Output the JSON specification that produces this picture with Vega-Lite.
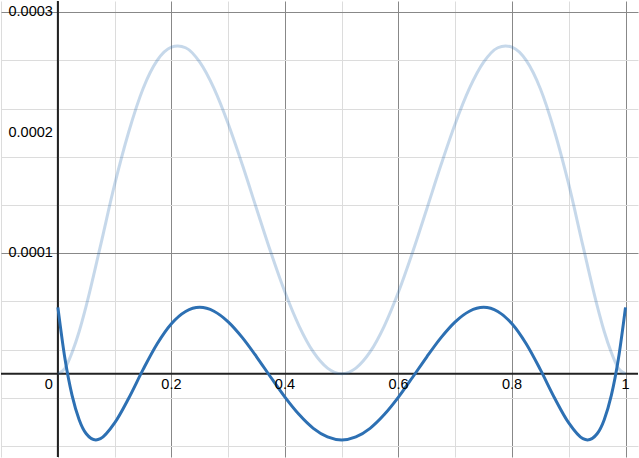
{
  "$schema": "https://vega.github.io/schema/vega-lite/v6.json",
  "width": 639,
  "height": 458,
  "autosize": {"type": "fit", "contains": "padding"},
  "padding": 0,
  "background": "white",
  "config": {
    "view": {"stroke": null},
    "axis": {"minExtent": 0, "maxExtent": 0}
  },
  "datasets": {
    "light": [
      {"x": 0, "y": 0}, {"x": 0.0125, "y": 4.4e-6}, {"x": 0.025, "y": 1.75e-5}, {"x": 0.0375, "y": 3.5e-5},
      {"x": 0.05, "y": 5.65e-5}, {"x": 0.075, "y": 1.06e-4}, {"x": 0.1, "y": 1.57e-4}, {"x": 0.125, "y": 2.01e-4},
      {"x": 0.15, "y": 2.365e-4}, {"x": 0.175, "y": 2.6e-4}, {"x": 0.2, "y": 2.71e-4}, {"x": 0.2113, "y": 2.72e-4},
      {"x": 0.225, "y": 2.705e-4}, {"x": 0.25, "y": 2.585e-4}, {"x": 0.275, "y": 2.367e-4}, {"x": 0.3, "y": 2.074e-4},
      {"x": 0.325, "y": 1.733e-4}, {"x": 0.35, "y": 1.369e-4}, {"x": 0.375, "y": 1.009e-4}, {"x": 0.4, "y": 6.77e-5},
      {"x": 0.425, "y": 3.95e-5}, {"x": 0.45, "y": 1.8e-5}, {"x": 0.475, "y": 4.6e-6}, {"x": 0.5, "y": 0},
      {"x": 0.525, "y": 4.6e-6}, {"x": 0.55, "y": 1.8e-5}, {"x": 0.575, "y": 3.95e-5}, {"x": 0.6, "y": 6.77e-5},
      {"x": 0.625, "y": 1.009e-4}, {"x": 0.65, "y": 1.369e-4}, {"x": 0.675, "y": 1.733e-4}, {"x": 0.7, "y": 2.074e-4},
      {"x": 0.725, "y": 2.367e-4}, {"x": 0.75, "y": 2.585e-4}, {"x": 0.775, "y": 2.705e-4}, {"x": 0.7887, "y": 2.72e-4},
      {"x": 0.8, "y": 2.71e-4}, {"x": 0.825, "y": 2.6e-4}, {"x": 0.85, "y": 2.365e-4}, {"x": 0.875, "y": 2.01e-4},
      {"x": 0.9, "y": 1.57e-4}, {"x": 0.925, "y": 1.06e-4}, {"x": 0.95, "y": 5.65e-5}, {"x": 0.9625, "y": 3.5e-5},
      {"x": 0.975, "y": 1.75e-5}, {"x": 0.9875, "y": 4.4e-6}, {"x": 1, "y": 0}
    ],
    "dark": [
      {"x": 0, "y": 5.5e-5}, {"x": 0.0125, "y": 1.23e-5}, {"x": 0.025, "y": -1.81e-5}, {"x": 0.0375, "y": -3.82e-5},
      {"x": 0.05, "y": -4.99e-5}, {"x": 0.067, "y": -5.5e-5}, {"x": 0.075, "y": -5.4e-5}, {"x": 0.1, "y": -4.09e-5},
      {"x": 0.125, "y": -2.02e-5}, {"x": 0.15, "y": 3.3e-6}, {"x": 0.175, "y": 2.48e-5}, {"x": 0.2, "y": 4.14e-5},
      {"x": 0.225, "y": 5.16e-5}, {"x": 0.25, "y": 5.5e-5}, {"x": 0.275, "y": 5.18e-5}, {"x": 0.3, "y": 4.3e-5},
      {"x": 0.325, "y": 2.99e-5}, {"x": 0.35, "y": 1.4e-5}, {"x": 0.375, "y": -3.0e-6}, {"x": 0.4, "y": -1.95e-5},
      {"x": 0.425, "y": -3.4e-5}, {"x": 0.45, "y": -4.54e-5}, {"x": 0.475, "y": -5.25e-5}, {"x": 0.5, "y": -5.5e-5},
      {"x": 0.525, "y": -5.25e-5}, {"x": 0.55, "y": -4.54e-5}, {"x": 0.575, "y": -3.4e-5}, {"x": 0.6, "y": -1.95e-5},
      {"x": 0.625, "y": -3.0e-6}, {"x": 0.65, "y": 1.4e-5}, {"x": 0.675, "y": 2.99e-5}, {"x": 0.7, "y": 4.3e-5},
      {"x": 0.725, "y": 5.18e-5}, {"x": 0.75, "y": 5.5e-5}, {"x": 0.775, "y": 5.16e-5}, {"x": 0.8, "y": 4.14e-5},
      {"x": 0.825, "y": 2.48e-5}, {"x": 0.85, "y": 3.3e-6}, {"x": 0.875, "y": -2.02e-5}, {"x": 0.9, "y": -4.09e-5},
      {"x": 0.925, "y": -5.4e-5}, {"x": 0.933, "y": -5.5e-5}, {"x": 0.95, "y": -4.99e-5}, {"x": 0.9625, "y": -3.82e-5},
      {"x": 0.975, "y": -1.81e-5}, {"x": 0.9875, "y": 1.23e-5}, {"x": 1, "y": 5.5e-5}
    ],
    "xlabels": [
      {"x": 0.2, "label": "0.2"}, {"x": 0.4, "label": "0.4"}, {"x": 0.6, "label": "0.6"},
      {"x": 0.8, "label": "0.8"}, {"x": 1, "label": "1"}
    ],
    "ylabels": [
      {"y": 0.0001, "label": "0.0001"}, {"y": 0.0002, "label": "0.0002"}, {"y": 0.0003, "label": "0.0003"}
    ],
    "zerolabel": [{"x": 0, "y": 0, "label": "0"}],
    "origin": [{"x": 0, "y": 0}]
  },
  "layer": [
    {
      "data": {"name": "light"},
      "mark": {"type": "line", "color": "#2d70b3", "opacity": 0, "strokeWidth": 3, "interpolate": "monotone"},
      "encoding": {
        "x": {
          "field": "x", "type": "quantitative",
          "scale": {"domain": [-0.1002, 1.022], "nice": false, "zero": false},
          "axis": {
            "title": null, "labels": false, "ticks": false, "domain": false, "grid": true,
            "values": [-0.1, -0.05, 0, 0.05, 0.1, 0.15, 0.2, 0.25, 0.3, 0.35, 0.4, 0.45, 0.5, 0.55, 0.6, 0.65, 0.7, 0.75, 0.8, 0.85, 0.9, 0.95, 1.0],
            "gridColor": {"condition": {"test": "abs(datum.value/0.2 - round(datum.value/0.2)) < 0.01", "value": "#888888"}, "value": "#dcdcdc"},
            "gridWidth": 1
          }
        },
        "y": {
          "field": "y", "type": "quantitative",
          "scale": {"domain": [-0.0000692, 0.0003093], "nice": false, "zero": false},
          "axis": {
            "title": null, "labels": false, "ticks": false, "domain": false, "grid": true,
            "values": [-0.00006, -0.00004, -0.00002, 0, 0.00002, 0.00004, 0.00006, 0.00008, 0.0001, 0.00012, 0.00014, 0.00016, 0.00018, 0.0002, 0.00022, 0.00024, 0.00026, 0.00028, 0.0003],
            "gridColor": {"condition": {"test": "abs(datum.value*10000 - round(datum.value*10000)) < 0.01", "value": "#888888"}, "value": "#dcdcdc"},
            "gridWidth": 1
          }
        }
      }
    },
    {
      "data": {"name": "origin"},
      "mark": {"type": "rule", "color": "#222222", "strokeWidth": 2},
      "encoding": {"x": {"field": "x", "type": "quantitative"}}
    },
    {
      "data": {"name": "origin"},
      "mark": {"type": "rule", "color": "#222222", "strokeWidth": 2},
      "encoding": {"y": {"field": "y", "type": "quantitative"}}
    },
    {
      "data": {"name": "light"},
      "mark": {"type": "line", "color": "#2d70b3", "opacity": 0.27, "strokeWidth": 3, "interpolate": "monotone"},
      "encoding": {"x": {"field": "x", "type": "quantitative"}, "y": {"field": "y", "type": "quantitative"}}
    },
    {
      "data": {"name": "dark"},
      "mark": {"type": "line", "color": "#2d70b3", "strokeWidth": 3, "interpolate": "monotone"},
      "encoding": {"x": {"field": "x", "type": "quantitative"}, "y": {"field": "y", "type": "quantitative"}}
    },
    {
      "data": {"name": "xlabels"},
      "mark": {"type": "text", "font": "Arial, Liberation Sans", "fontSize": 14.5, "align": "center", "baseline": "middle", "dy": 11, "color": "black"},
      "encoding": {"x": {"field": "x", "type": "quantitative"}, "y": {"datum": 0, "type": "quantitative"}, "text": {"field": "label"}}
    },
    {
      "data": {"name": "zerolabel"},
      "mark": {"type": "text", "font": "Arial, Liberation Sans", "fontSize": 14.5, "align": "right", "baseline": "middle", "dx": -5, "dy": 11, "color": "black"},
      "encoding": {"x": {"field": "x", "type": "quantitative"}, "y": {"field": "y", "type": "quantitative"}, "text": {"field": "label"}}
    },
    {
      "data": {"name": "ylabels"},
      "mark": {"type": "text", "font": "Arial, Liberation Sans", "fontSize": 14.5, "align": "right", "baseline": "middle", "dx": -5, "color": "black"},
      "encoding": {"x": {"datum": 0, "type": "quantitative"}, "y": {"field": "y", "type": "quantitative"}, "text": {"field": "label"}}
    }
  ]
}
